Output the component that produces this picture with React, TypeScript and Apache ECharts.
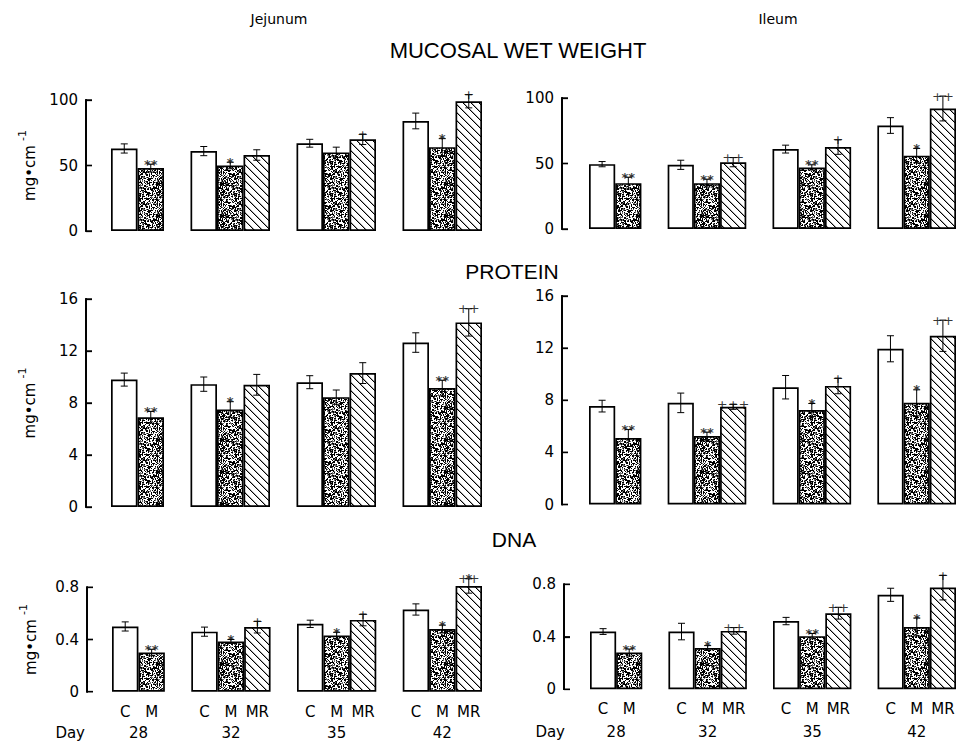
import React, { useEffect, useRef } from 'react';
import * as echarts from 'echarts';

// ---------- categories / labels ----------
const DAYS = ['28', '32', '35', '42'];
const GROUPS = ['C', 'M', 'MR'];
const DAY_AXIS_NAME = 'Day';
const SEGMENTS = ['Jejunum', 'Ileum'];
const PANEL_TITLES = ['MUCOSAL WET WEIGHT', 'PROTEIN', 'DNA'];
const Y_UNIT = 'mg•cm';
const Y_UNIT_EXP = '-1';

// ---------- tick labels ----------
const WET_TICKS = [0, 50, 100];
const PROTEIN_TICKS = [0, 4, 8, 12, 16];
const DNA_TICKS = [0, 0.4, 0.8];

// ---------- Jejunum: mucosal wet weight ----------
const JEJ_WET_C = [63, 61, 67, 84];
const JEJ_WET_C_SE = [3.5, 3.5, 3, 6];
const JEJ_WET_M = [48, 50, 60, 64];
const JEJ_WET_M_SE = [3, 2.5, 4, 6.5];
const JEJ_WET_M_SIG = ['**', '*', '', '*'];
const JEJ_WET_MR = [null, 58, 70, 99];
const JEJ_WET_MR_SE = [null, 4, 4, 5];
const JEJ_WET_MR_SIG = ['', '', '+', '+'];

// ---------- Ileum: mucosal wet weight ----------
const ILE_WET_C = [49.5, 49, 61, 79];
const ILE_WET_C_SE = [2, 3.5, 3, 6];
const ILE_WET_M = [35, 35, 47, 56];
const ILE_WET_M_SE = [4.5, 3, 2, 5.5];
const ILE_WET_M_SIG = ['**', '**', '**', '*'];
const ILE_WET_MR = [null, 51, 62.5, 92];
const ILE_WET_MR_SE = [null, 3.5, 5.5, 9.5];
const ILE_WET_MR_SIG = ['', '++', '+', '++'];

// ---------- Jejunum: protein ----------
const JEJ_PRO_C = [9.8, 9.45, 9.6, 12.65];
const JEJ_PRO_C_SE = [0.5, 0.55, 0.5, 0.75];
const JEJ_PRO_M = [6.9, 7.5, 8.45, 9.15];
const JEJ_PRO_M_SE = [0.45, 0.6, 0.55, 0.6];
const JEJ_PRO_M_SIG = ['**', '*', '', '**'];
const JEJ_PRO_MR = [null, 9.4, 10.3, 14.2];
const JEJ_PRO_MR_SE = [null, 0.8, 0.8, 1.05];
const JEJ_PRO_MR_SIG = ['', '', '', '++'];

// ---------- Ileum: protein ----------
const ILE_PRO_C = [7.55, 7.8, 9.0, 11.95];
const ILE_PRO_C_SE = [0.45, 0.75, 0.9, 1.0];
const ILE_PRO_M = [5.1, 5.25, 7.25, 7.8];
const ILE_PRO_M_SE = [0.65, 0.3, 0.5, 1.0];
const ILE_PRO_M_SIG = ['**', '**', '*', '*'];
const ILE_PRO_MR = [null, 7.5, 9.1, 12.95];
const ILE_PRO_MR_SE = [null, 0.2, 0.6, 1.2];
const ILE_PRO_MR_SIG = ['', '+++', '+', '++'];

// ---------- Jejunum: DNA ----------
const JEJ_DNA_C = [0.5, 0.46, 0.52, 0.63];
const JEJ_DNA_C_SE = [0.035, 0.035, 0.028, 0.043];
const JEJ_DNA_M = [0.3, 0.385, 0.43, 0.48];
const JEJ_DNA_M_SE = [0.025, 0.015, 0.025, 0.03];
const JEJ_DNA_M_SIG = ['**', '*', '*', '*'];
const JEJ_DNA_MR = [null, 0.495, 0.55, 0.81];
const JEJ_DNA_MR_SE = [null, 0.045, 0.045, 0.055];
const JEJ_DNA_MR_SIG = ['', '+', '+', '++\n*'];

// ---------- Ileum: DNA ----------
const ILE_DNA_C = [0.44, 0.44, 0.52, 0.72];
const ILE_DNA_C_SE = [0.022, 0.063, 0.028, 0.05];
const ILE_DNA_M = [0.28, 0.315, 0.405, 0.475];
const ILE_DNA_M_SE = [0.027, 0.018, 0.02, 0.068];
const ILE_DNA_M_SIG = ['**', '*', '**', '*'];
const ILE_DNA_MR = [null, 0.445, 0.58, 0.775];
const ILE_DNA_MR_SE = [null, 0.025, 0.045, 0.094];
const ILE_DNA_MR_SIG = ['', '++', '++', '+'];

const NO_SIG = ['', '', '', ''];

type Grp = { mean: (number | null)[]; se: (number | null)[]; sig: string[] };
type Panel = { ticks: number[]; C: Grp; M: Grp; MR: Grp };

const PANELS: Panel[] = [
  {
    ticks: WET_TICKS,
    C: { mean: JEJ_WET_C, se: JEJ_WET_C_SE, sig: NO_SIG },
    M: { mean: JEJ_WET_M, se: JEJ_WET_M_SE, sig: JEJ_WET_M_SIG },
    MR: { mean: JEJ_WET_MR, se: JEJ_WET_MR_SE, sig: JEJ_WET_MR_SIG },
  },
  {
    ticks: WET_TICKS,
    C: { mean: ILE_WET_C, se: ILE_WET_C_SE, sig: NO_SIG },
    M: { mean: ILE_WET_M, se: ILE_WET_M_SE, sig: ILE_WET_M_SIG },
    MR: { mean: ILE_WET_MR, se: ILE_WET_MR_SE, sig: ILE_WET_MR_SIG },
  },
  {
    ticks: PROTEIN_TICKS,
    C: { mean: JEJ_PRO_C, se: JEJ_PRO_C_SE, sig: NO_SIG },
    M: { mean: JEJ_PRO_M, se: JEJ_PRO_M_SE, sig: JEJ_PRO_M_SIG },
    MR: { mean: JEJ_PRO_MR, se: JEJ_PRO_MR_SE, sig: JEJ_PRO_MR_SIG },
  },
  {
    ticks: PROTEIN_TICKS,
    C: { mean: ILE_PRO_C, se: ILE_PRO_C_SE, sig: NO_SIG },
    M: { mean: ILE_PRO_M, se: ILE_PRO_M_SE, sig: ILE_PRO_M_SIG },
    MR: { mean: ILE_PRO_MR, se: ILE_PRO_MR_SE, sig: ILE_PRO_MR_SIG },
  },
  {
    ticks: DNA_TICKS,
    C: { mean: JEJ_DNA_C, se: JEJ_DNA_C_SE, sig: NO_SIG },
    M: { mean: JEJ_DNA_M, se: JEJ_DNA_M_SE, sig: JEJ_DNA_M_SIG },
    MR: { mean: JEJ_DNA_MR, se: JEJ_DNA_MR_SE, sig: JEJ_DNA_MR_SIG },
  },
  {
    ticks: DNA_TICKS,
    C: { mean: ILE_DNA_C, se: ILE_DNA_C_SE, sig: NO_SIG },
    M: { mean: ILE_DNA_M, se: ILE_DNA_M_SE, sig: ILE_DNA_M_SIG },
    MR: { mean: ILE_DNA_MR, se: ILE_DNA_MR_SE, sig: ILE_DNA_MR_SIG },
  },
];

// ---------- layout (pixels) ----------
// barStart/barEnd: first bar's left edge and last bar's right edge; axisX: y-axis line
const LAYOUT = [
  { barStart: 111, barEnd: 482, top: 100, height: 131, axisX: 86, dayOffset: 0, dayRight: 0 },
  { barStart: 589, barEnd: 956, top: 98, height: 131, axisX: 562, dayOffset: 0, dayRight: 0 },
  { barStart: 111, barEnd: 482, top: 299, height: 208, axisX: 86, dayOffset: 0, dayRight: 0 },
  { barStart: 589, barEnd: 956, top: 296, height: 208.5, axisX: 562, dayOffset: 0, dayRight: 0 },
  { barStart: 112, barEnd: 482, top: 587.3, height: 104.4, axisX: 87, dayOffset: 41, dayRight: 85 },
  { barStart: 590, barEnd: 956, top: 584.3, height: 105, axisX: 564, dayOffset: 43, dayRight: 565 },
];
const TITLE_POS = [
  { left: 518, top: 39, size: 22 },
  { left: 512, top: 261, size: 21 },
  { left: 514, top: 529, size: 21 },
];
const SEGMENT_POS = [
  { left: 279, top: 12 },
  { left: 778, top: 12 },
];

const TICK_FONT = 'DejaVu Sans';
const TITLE_FONT = 'Liberation Sans';

// slot index of each bar (one empty slot between days)
const SLOT: Record<string, (number | null)[]> = { C: [], M: [], MR: [] };
const SLOT_LABEL = new Map<number, string>();
const DAY_CENTER: number[] = [];
let N_SLOTS = 0;
(() => {
  let s = 0;
  const ref = PANELS[0];
  DAYS.forEach((_, d) => {
    const used: number[] = [];
    GROUPS.forEach((g) => {
      if ((ref as any)[g].mean[d] != null) {
        SLOT[g][d] = s;
        SLOT_LABEL.set(s, g);
        used.push(s);
        s++;
      } else {
        SLOT[g][d] = null;
      }
    });
    DAY_CENTER.push((used[0] + used[used.length - 1]) / 2);
    s++;
  });
  N_SLOTS = s - 1;
})();

function makePatterns() {
  // stipple texture
  const sz = 32;
  const c1 = document.createElement('canvas');
  c1.width = sz;
  c1.height = sz;
  const g1 = c1.getContext('2d')!;
  g1.fillStyle = '#fff';
  g1.fillRect(0, 0, sz, sz);
  for (let y = 0; y < sz; y++) {
    for (let x = 0; x < sz; x++) {
      let h = Math.imul(x * 374761393 + y * 668265263, 1274126177) >>> 0;
      h = Math.imul(h ^ (h >>> 13), 1597334677) >>> 0;
      h = (h ^ (h >>> 16)) >>> 0;
      const r = (h & 0xffff) / 65536;
      let col = '';
      if (r < 0.42) col = '#000';
      else if (r < 0.6) col = '#6e6e6e';
      if (col) {
        g1.fillStyle = col;
        g1.fillRect(x, y, 1, 1);
      }
    }
  }
  // hatch (top-left to bottom-right)
  const hs = 8;
  const c2 = document.createElement('canvas');
  c2.width = hs;
  c2.height = hs;
  const g2 = c2.getContext('2d')!;
  g2.fillStyle = '#fff';
  g2.fillRect(0, 0, hs, hs);
  for (let i = 0; i < hs; i++) {
    g2.fillStyle = '#000';
    g2.fillRect(i, i, 1, 1);
    g2.fillStyle = '#a8a8a8';
    g2.fillRect((i + 1) % hs, i, 1, 1);
  }
  return {
    C: '#ffffff',
    M: { image: c1.toDataURL(), repeat: 'repeat', imageWidth: sz, imageHeight: sz },
    MR: { image: c2.toDataURL(), repeat: 'repeat', imageWidth: hs, imageHeight: hs },
  } as Record<string, any>;
}

// y-axis line + inward ticks through the panel's own scales (x = 0 is the axis position)
function axisSeries(i: number, ticks: number[]) {
  const lo = ticks[0];
  const hi = ticks[ticks.length - 1];
  return {
    type: 'custom',
    xAxisIndex: i,
    yAxisIndex: i,
    data: ticks.map((v) => [0, v]),
    encode: { x: 0, y: 1 },
    z: 100,
    silent: true,
    clip: false,
    renderItem: (params: any, api: any) => {
      const p = api.coord([0, api.value(1)]);
      const children: any[] = [
        { type: 'rect', shape: { x: p[0], y: p[1] - 0.7, width: 6, height: 1.4 }, style: { fill: '#000' } },
      ];
      if (params.dataIndex === 0) {
        const a = api.coord([0, lo]);
        const b = api.coord([0, hi]);
        children.push({
          type: 'rect',
          shape: { x: a[0] - 0.8, y: b[1] - 0.7, width: 1.6, height: a[1] - b[1] + 1.4 },
          style: { fill: '#000' },
        });
      }
      return { type: 'group', children };
    },
  };
}

function errorSeries(i: number, pts: number[][]) {
  return {
    type: 'custom',
    xAxisIndex: i,
    yAxisIndex: i,
    data: pts,
    encode: { x: 0, y: [1, 2] },
    z: 5,
    silent: true,
    clip: false,
    renderItem: (params: any, api: any) => {
      const x = api.value(0);
      const top = api.coord([x, api.value(2)]);
      const bot = api.coord([x, api.value(1)]);
      const cap = 3.5;
      const st = { stroke: '#000', lineWidth: 1 };
      return {
        type: 'group',
        children: [
          { type: 'line', shape: { x1: top[0], y1: top[1], x2: bot[0], y2: bot[1] }, style: st },
          { type: 'line', shape: { x1: top[0] - cap, y1: top[1], x2: top[0] + cap, y2: top[1] }, style: st },
          { type: 'line', shape: { x1: bot[0] - cap, y1: bot[1], x2: bot[0] + cap, y2: bot[1] }, style: st },
        ],
      };
    },
  };
}

// significance marks: one label per line, anchored at the top of each error bar
function markSeries(i: number, pts: number[][], marks: string[]) {
  const items: any[] = [];
  pts.forEach((p, k) => {
    const m = marks[k];
    if (!m) return;
    const lines = m.split('\n').reverse();
    let lift = 0;
    lines.forEach((ln, j) => {
      const star = ln.indexOf('*') >= 0;
      const base = star ? 2 : 6.5;
      if (j > 0) lift += 12;
      items.push({
        value: [p[0], p[2]],
        label: {
          formatter: ln,
          fontWeight: star ? 'bold' : 'normal',
          offset: [0, -base - lift],
        },
      });
    });
  });
  return {
    type: 'scatter',
    xAxisIndex: i,
    yAxisIndex: i,
    data: items,
    symbol: 'circle',
    symbolSize: 1,
    itemStyle: { color: 'rgba(0,0,0,0)' },
    z: 7,
    silent: true,
    clip: false,
    labelLayout: { hideOverlap: false },
    label: {
      show: true,
      position: 'inside',
      color: '#000',
      fontSize: 13,
      lineHeight: 11,
      fontFamily: TICK_FONT,
      align: 'center',
      verticalAlign: 'middle',
      textBorderWidth: 0,
    },
  };
}

function buildOption() {
  const fills = makePatterns();
  const grids: any[] = [];
  const xAxes: any[] = [];
  const yAxes: any[] = [];
  const series: any[] = [];
  const dayAxes: any[] = [];
  const graphics: any[] = [];

  PANELS.forEach((p, i) => {
    const L = LAYOUT[i];
    const isBottom = i >= 4;
    const isLeft = i % 2 === 0;
    const unit = (L.barEnd - L.barStart) / N_SLOTS;
    // x = 0 sits on the y-axis line; slot k is centred at shift + k
    const shift = (L.barStart - L.axisX) / unit + 0.5;
    const xMax = shift + N_SLOTS - 0.5;
    grids.push({
      show: false,
      left: L.axisX,
      top: L.top,
      width: L.barEnd - L.axisX,
      height: L.height,
      containLabel: false,
      outerBoundsMode: 'none',
    });
    // axis spine as a thin filled rectangle (same place as the axis line)
    graphics.push({
      type: 'rect',
      z: 1000,
      shape: { x: L.axisX - 0.8, y: L.top - 0.7, width: 1.6, height: L.height + 1.4 },
      style: { fill: '#000' },
    });
    const xBase = {
      type: 'value',
      gridIndex: i,
      min: 0,
      max: xMax,
      splitLine: { show: false },
      axisLine: { show: false },
      axisTick: { show: false },
      position: 'bottom',
    };
    xAxes.push({
      ...xBase,
      axisLabel: isBottom
        ? {
            show: true,
            customValues: Array.from(SLOT_LABEL.keys()).map((k) => k + shift),
            formatter: (v: number) => SLOT_LABEL.get(Math.round(v - shift)) || '',
            color: '#000',
            fontSize: 15,
            fontFamily: TICK_FONT,
            margin: 20,
            verticalAlign: 'middle',
          }
        : { show: false },
    });
    if (isBottom) {
      const centers = DAY_CENTER.map((c) => c + shift);
      dayAxes.push({
        ...xBase,
        offset: L.dayOffset,
        axisLabel: {
          show: true,
          customValues: centers,
          formatter: (v: number) => {
            let best = 0;
            centers.forEach((c, k) => {
              if (Math.abs(c - v) < Math.abs(centers[best] - v)) best = k;
            });
            return DAYS[best];
          },
          color: '#000',
          fontSize: 15,
          fontFamily: TICK_FONT,
          margin: 0,
          verticalAlign: 'middle',
        },
        name: DAY_AXIS_NAME,
        nameLocation: 'start',
        nameGap: L.axisX - L.dayRight,
        nameTextStyle: { color: '#000', fontSize: 15, fontFamily: TICK_FONT, verticalAlign: 'middle' },
      });
    }
    const t = p.ticks;
    yAxes.push({
      type: 'value',
      gridIndex: i,
      position: 'left',
      min: t[0],
      max: t[t.length - 1],
      interval: t[1] - t[0],
      splitLine: { show: false },
      axisLine: { show: true, onZero: true, lineStyle: { color: '#000', width: 1.5 } },
      axisTick: { show: true, inside: true, length: 6, lineStyle: { color: '#000', width: 1.3 } },
      axisLabel: { color: '#000', fontSize: 15, fontFamily: TICK_FONT, margin: 8 },
      ...(isLeft
        ? {
            name: `{a|${Y_UNIT}}{b|${Y_UNIT_EXP}}`,
            nameLocation: 'middle',
            nameGap: 43,
            nameRotate: 90,
            nameTextStyle: {
              rich: {
                a: { fontSize: 15, fontFamily: TICK_FONT, color: '#000', lineHeight: 26 },
                b: { fontSize: 11, fontFamily: TICK_FONT, color: '#000', verticalAlign: 'top', padding: [0, 0, 0, 4] },
              },
            },
          }
        : {}),
    });

    series.push(axisSeries(i, t));

    GROUPS.forEach((g) => {
      const s = (p as any)[g] as Grp;
      const bars: number[][] = [];
      const eb: number[][] = [];
      const marks: string[] = [];
      s.mean.forEach((v, d) => {
        if (v == null) return;
        const x = (SLOT[g][d] as number) + shift;
        bars.push([x, v]);
        const e = s.se[d] as number;
        eb.push([x, v - e, v + e]);
        marks.push(s.sig[d] || '');
      });
      series.push({
        type: 'bar',
        name: g,
        xAxisIndex: i,
        yAxisIndex: i,
        data: bars,
        barWidth: unit,
        barGap: '-100%',
        clip: false,
        silent: true,
        z: 2,
        itemStyle: { color: fills[g], borderColor: '#000', borderWidth: 1.7 },
      });
      series.push(errorSeries(i, eb));
      if (marks.some((m) => m)) series.push(markSeries(i, eb, marks));
    });
  });

  const titles: any[] = [];
  SEGMENTS.forEach((s, k) => {
    titles.push({
      text: s,
      left: SEGMENT_POS[k].left,
      top: SEGMENT_POS[k].top,
      textAlign: 'center',
      padding: 0,
      textStyle: { fontSize: 14, fontWeight: 'normal', fontFamily: TICK_FONT, color: '#000' },
    });
  });
  PANEL_TITLES.forEach((s, k) => {
    titles.push({
      text: s,
      left: TITLE_POS[k].left,
      top: TITLE_POS[k].top,
      textAlign: 'center',
      padding: 0,
      textStyle: { fontSize: TITLE_POS[k].size, fontWeight: 'normal', fontFamily: TITLE_FONT, color: '#000' },
    });
  });

  return {
    animation: false,
    backgroundColor: '#ffffff',
    title: titles,
    grid: grids,
    xAxis: [...xAxes, ...dayAxes.map((a, k) => ({ ...a, gridIndex: 4 + k }))],
    yAxis: yAxes,
    graphic: graphics,
    series,
  };
}

export default function App() {
  const ref = useRef<HTMLDivElement>(null);
  useEffect(() => {
    if (!ref.current) return;
    const chart = echarts.init(ref.current, null, { renderer: 'svg' });
    chart.setOption(buildOption() as any);
    return () => chart.dispose();
  }, []);
  return (
    <div
      ref={ref}
      style={{ position: 'fixed', left: 0, top: 0, width: 959, height: 744, background: '#fff' }}
    />
  );
}
